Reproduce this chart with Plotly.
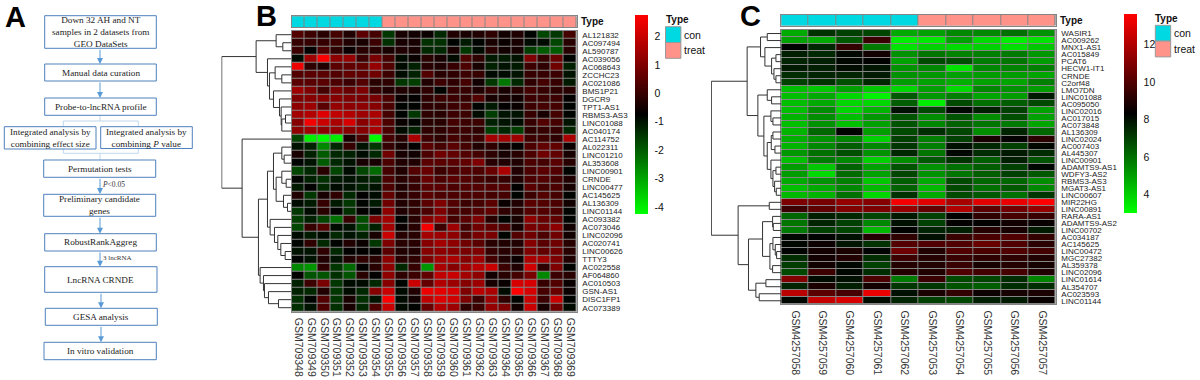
import plotly.graph_objects as go

# ---------- DATA ----------
b_rows = ["AL121832","AC097494","AL590787","AC039056","AC068643","ZCCHC23","AC021086","BMS1P21","DGCR9","TPT1-AS1","RBMS3-AS3","LINC01088","AC040174","AC114752","AL022311","LINC01210","AL353608","LINC00901","CRNDE","LINC00477","AC145625","AL136309","LINC01144","AC093382","AC073046","LINC02096","AC020741","LINC00626","TTTY3","AC022558","AF064860","AC010503","GSN-AS1","DISC1FP1","AC073389"]
b_cols = ["GSM7093%d" % i for i in range(48, 70)]
b_types = [0]*7 + [1]*15
b_values = [
[.4,.1,-.2,.2,-.3,.5,.2,-1.5,-.4,-.5,-.6,-1.3,-.3,-.4,-.3,-.1,-.5,-.3,-.8,-1.7,-1.5,.2],
[0,0,0,.1,-.3,-.4,.1,-1.4,-.4,-.4,-1.4,-1.4,-.8,-1.1,-.8,-.4,-.6,-.4,-.9,-.9,-1.7,-.2],
[.1,-.7,.3,-.1,-.6,-.2,-.2,-.4,-.3,-.4,-1.3,-1.3,-.4,-1.5,-.9,-.2,-.5,-.4,-1.6,-2,-2,-.2],
[-.9,1.4,2.7,1.2,1.3,.1,.9,.2,-.9,-.6,-.2,-.4,-.9,.3,-.1,-1.1,-1.1,-1,1,0,.7,-.8],
[2.5,-.1,-.3,.5,.6,.6,1.3,.4,-.9,-1.2,-.2,-.3,0,.3,-.4,-1.2,-1,-1.1,.1,-.1,.8,-1.2],
[.4,.5,.5,.4,.6,.6,.8,.1,-.9,-1.2,.4,-.2,-.1,.1,0,-.9,-.9,-1,0,0,.1,-1],
[.5,.5,.5,.3,.1,.4,-.2,-.1,-1.5,-1.6,-.3,.1,-.1,.2,-.5,-1.5,-2.4,-1.3,-.1,.2,0,-1.1],
[1.4,1,.2,.9,.7,1,0,-.3,-.3,-.4,-.1,-.8,0,0,-.3,0,-.4,-.2,.2,0,-.1,-.2],
[1,1.1,1.1,1.1,1,.9,.9,.3,-.6,-.7,-.1,.1,.1,0,.4,-.4,-.4,-.5,.1,.1,.1,-.7],
[1.2,1.4,.5,1.3,1.2,1.2,1.1,.3,-.8,-.8,-.1,-.1,.1,.2,-.8,-1.1,-.7,-.6,.1,.2,.2,-.8],
[1.5,1.7,2.3,1.9,1.7,1.4,1.6,.2,-.8,-1.5,-.1,-.2,.1,.1,-.9,-1.6,-1,-1,0,-.4,.2,-.8],
[1.1,2.6,2,1.6,2.2,1.1,1.6,.3,-.6,-.8,-.2,-.2,.2,.1,.1,-1.2,-1,-.9,0,.4,.2,-1],
[1.2,1.4,1.2,1.3,1.1,1.1,1.6,.3,-.9,-1.2,-.1,-.1,.1,.1,-.1,-1.6,-1.3,-1.6,-.1,0,0,-1.3],
[-1.7,-4,-4.2,-4,-.4,.3,-4.2,.2,-.2,1.6,.1,-.1,.2,.1,.1,1.5,1.5,1.4,.1,.1,-.1,1.6],
[-1,-1.2,-2.6,-1.3,0,-1,-1.5,0,-.4,-.7,.5,.2,.5,.2,-.3,-.1,-.5,-.7,.3,.6,.6,-.6],
[-.4,-1.2,-2,-1.3,-1.2,-.9,-1.3,.8,-.4,-.5,.3,.8,.6,.4,.2,-.1,-.4,-.2,.3,.8,.6,-.4],
[-.8,-1,-2,-1.3,-1,-.4,-.4,.3,-.3,-.3,.5,.5,.5,.6,1,-.2,-.3,-.3,.3,.2,.5,-.2],
[-1.7,-1.3,-.2,-1.7,-.9,-1.7,-2.2,.2,-.3,.4,.7,.1,.3,.4,.3,.7,1.6,-.3,.3,.5,.4,-.8],
[-.8,-1.2,-1.4,-1.1,-1,-1.1,-1.3,.3,-.2,.1,.7,.3,.5,.4,.2,.1,0,-.3,.3,.4,.2,-.3],
[-1.1,-.7,-1.3,-.9,-1,-1.2,-1,.3,-.3,0,.5,.5,.3,.4,.4,.4,.4,-.7,.5,.2,.3,-.4],
[-.3,-1.5,-.4,-.1,-1.3,-.7,-.9,.6,-.2,0,.5,.3,.3,.3,.3,.2,.2,-.8,.1,.4,.2,-.8],
[-.9,-1.1,0,-1.1,-1.5,-.8,-1.1,.8,-.3,-.1,.5,1,.4,.1,.2,.5,-.6,-.3,.5,.4,.3,-.5],
[-1.5,-.9,-.2,-.7,-1.4,-.7,-.8,1.2,-.3,-.1,.3,1,.3,.2,.4,.6,-.1,-.2,.4,.4,.3,-.8],
[-1.6,-1.2,-1.7,-2.3,0,-1.8,.9,1.5,-.8,-.2,1.1,1.3,.2,.5,1,-.2,-.8,-.4,1.2,.7,.6,-.8],
[-1.7,0,.4,-.9,-1,-1.8,-1.2,1.5,-.6,-.2,2.6,.1,1.4,.2,.8,.6,.3,-.4,.9,.8,1.2,-.5],
[-.9,-1.1,-.9,-1.3,-1,-1.2,-.4,2,-.2,-.2,1.5,1.4,1.2,.4,.9,.9,-.8,.4,.8,.3,.8,-.5],
[-.8,-.1,-1.3,-.8,-.3,-.6,-1.5,1,-.2,-.2,1.1,1.5,1.2,.8,.5,-.2,-.3,-.3,1.1,.5,.8,-.2],
[-1,-1,-.1,-1.3,-.7,-.7,-.7,.5,-.3,-.3,1.1,1.2,1.1,.9,1,0,-.2,-.1,1,.6,.8,-.2],
[-.8,-1,-.3,-1,-.3,-.1,-.2,1.2,-.2,-.1,1,1.5,1.6,1.1,1.4,.2,-.3,-.6,1.6,1.5,1,-.3],
[-2.6,-2.8,-.1,-1.5,-2.2,-.7,-.2,1.2,-1.3,0,-2.8,1.6,1.1,1.5,1.8,2,.1,-.3,2.1,-.1,1,-.8],
[-.7,-1.9,-1.9,-1.4,-1.9,-.2,-.7,1.2,-.1,.1,.6,1.9,2,1.5,1.2,-.5,-.2,.2,.9,-2.6,.1,-.2],
[-1.2,.1,.9,-1.5,-.9,-.9,-1.3,1.1,-.8,2,.6,1.7,1.4,1.1,1.4,-.4,-.6,2.2,2.2,0,.4,-.6],
[-1.2,-1.3,-.3,-1.5,-.9,-1.3,1.1,2,-.9,-.3,2.5,2.4,2.2,1,1.8,1.6,-.9,2.7,2.2,.2,.7,-.6],
[-1.4,-.8,.4,-1.5,-.4,-1.4,-1,2.7,-.9,-.5,1.9,2.3,2.1,1,.1,1.4,-.1,-.8,2,.1,2,-.8],
[-1.4,-1,.3,-1.4,-.4,-1.3,.3,2,-.9,-.8,.7,1.7,1.4,-.1,.1,1.3,1,-.5,2,-.4,.8,-.9],
]
b_tree = (209,
    (106, (46, 0, (26, 1, 2)),
          (72, 3, (66, (49, 4, (29, 5, 6)),
                       (54, 7, (36, 8, (31, 9, (29, (18, 10, 11), 12))))))),
    (148, 13, (99,
        (72, (54, (29, 14, (22, 15, 16)), (46, (29, 17, (16, 18, 19)), (24, 20, (12, 21, 22)))),
              (64, 23, (51, 24, (41, 25, (32, 26, (19, 27, 28)))))),
        (94, 29, (84, 30, (81, 31, (69, 32, (39, 33, 34))))))))
b_range = (-4.25, 2.76)
b_ticks = [2, 1, 0, -1, -2, -3, -4]

c_rows = ["WASIR1","AC009262","MNX1-AS1","AC015849","PCAT6","HECW1-IT1","CRNDE","C2orf48","LMO7DN","LINC01088","AC095050","LINC02016","AC017015","AC073848","AL136309","LINC02024","AC007403","AL445307","LINC00901","ADAMTS9-AS1","WDFY3-AS2","RBMS3-AS3","MGAT3-AS1","LINC00607","MIR22HG","LINC00891","RARA-AS1","ADAMTS9-AS2","LINC00702","AC034187","AC145625","LINC00472","MGC27382","AL359378","LINC02096","LINC01614","AL354707","AC023593","LINC01144"]
c_cols = ["GSM42570%d" % i for i in (58,59,60,61,62,53,54,55,56,57)]
c_types = [0]*5 + [1]*5
c_values = [
[4.8,7.3,7,6.9,4.8,5,5.5,5.5,6,5.3],
[5,4.8,6.5,9.5,3.4,3.5,5,3.8,3.4,3.6],
[8.3,7.5,9.4,5.8,3.6,4,3.8,4,3.7,4.2],
[7.7,7.5,8.2,8.7,5.3,5.9,5.6,5.7,5.8,5.2],
[7.6,7.7,8.2,8.3,5,6.8,6.7,5.8,5.9,5.1],
[7.8,7.7,8.1,7.9,5.3,5.5,3.6,5.5,5.6,5.7],
[7.4,7.6,7.6,7.8,5.3,5.2,5,5.1,5.1,4.9],
[7,7.3,6.7,7.5,5.1,5,4.7,5,4.9,5.7],
[4.4,4.2,5,4.2,3.9,5,3.8,5.5,5.3,5.1],
[4.4,4.8,3.9,3.3,6.5,5.2,5.7,4.9,5.1,7.8],
[4.4,4.8,3.9,3.9,6.4,3.4,6.8,6,6.4,6.8],
[4.4,5.4,3.9,4.6,8,6.8,8.2,7.7,7,5],
[4.6,5.4,4.4,5.2,6.6,5.4,6.6,5.4,6.7,5],
[4.4,5.3,4.4,5,6.6,5.5,6.3,5.9,5.8,4.9],
[4.6,6.2,8.3,5.1,6.8,7.4,6.9,5.4,7.6,6.2],
[4.7,5.3,5.6,4,7,5.7,7,8.8,8.4,9.2],
[4.6,5.5,6.4,5.5,7.2,5.7,8,7.5,7,8.2],
[5.2,6,6.7,5.3,7.5,5.9,8.2,7.4,7.8,7.4],
[4.4,5.8,5.5,4,5.4,6.5,7.3,6.4,7.7,6.6],
[5.1,4.2,6.3,5,6.6,5.3,6,6.4,7,8.2],
[5.1,3.8,6.1,5,6.9,5.3,5.9,6.4,7,6.5],
[4.8,5.3,5.7,4.2,6.4,4.8,6.8,6.2,6.2,5.4],
[4.4,4.8,5.5,4.5,6.3,4.5,6.8,6,6.5,5.5],
[4.5,4.6,6,3.9,7.3,4.8,6.8,6.5,6,7.2],
[10.9,10.8,11.4,11.1,13.4,13,11.8,13,13.2,13.6],
[9.6,10.3,11,10.9,11.4,10.4,12,10.2,10.7,11.4],
[6.2,7.7,7.5,6.9,7.8,7,8.4,9.3,9.8,9.5],
[5.9,7.6,7,5.5,8,7,8.4,8.4,8.7,8.5],
[5.8,7,6.9,4.5,8.3,7.6,7.7,9.1,8.8,7.8],
[8.2,8.3,8,9.1,9.3,8,9.5,9.9,10,9.4],
[8.2,8.6,7.9,7.3,10.1,10,10,10.5,10,9.2],
[8.3,8.7,8.9,8.3,10.6,9,10,9.9,10,9.7],
[7.4,8.7,9,7.4,9.6,9.1,9.5,9.3,9.3,9],
[7.1,8.7,8.2,7,9.1,9,9.5,8.8,9.1,8.8],
[6.8,9.6,8.2,7.4,9.1,9,10,9.7,9.8,9],
[11,8.1,8,9.9,5.8,9.5,6.8,6.9,7.4,5.6],
[7.6,8.9,7.7,8.7,7.2,7.2,6.6,6.4,7.4,7.4],
[12.2,10.2,9.8,13.2,8,8.9,9.4,8.6,8.8,8.9],
[8.2,12.4,12.8,8.1,7.6,7,6.9,7.7,7.8,8.5],
]
c_tree = (209,
    (102, (62, (42, 0, 1), (49, 2, (29, (16, 3, 4), (22, 5, (16, 6, 7))))),
          (70, (42, 8, (29, 9, 10)),
               (52, (31, 11, (25, 12, 13)),
                    (42, (30, (25, 14, 15), (19, 16, 17)),
                         (31, 18, (25, (16, 19, 20), (20, 21, (15, 22, 23)))))))),
    (129, (36, 24, 25),
          (98, (56, (26, 26, (24, 27, 28)),
                    (34, (25, 29, (18, 30, (14, 31, 32))), (26, 33, 34))),
               (76, (46, 35, 36), (66, 37, 38)))))
c_range = (3.04, 13.63)
c_ticks = [12, 10, 8, 6, 4]

type_names = ["con", "treat"]
flow_labels = ["Down 32 AH and NT<br>samples in 2 datasets from<br>GEO DataSets", "Manual data curation",
               "Probe-to-lncRNA profile", "Integrated analysis by<br>combining effect size",
               "Integrated analysis by<br>combining <i>P</i> value", "Permutation tests",
               "Preliminary candidate<br>genes", "RobustRankAggreg", "LncRNA CRNDE", "GESA analysis",
               "In vitro validation"]

# ---------- STYLE / LAYOUT ----------
W, H = 1200, 380
CON, TREAT, GRID = "#00D8E2", "#FF9289", "#858585"
SCALE = [[0, "#00FF00"], [.5, "#000000"], [1, "#FF0000"]]
SANS, SERIF = "Liberation Sans, Arial", "Liberation Serif, Times New Roman"

fx = lambda x: x / W
fy = lambda y: 1 - y / H

flow_boxes = [(44.7,15.7,156.3,48.3),(44.7,64,156.3,81),(44.7,98,156.3,115.3),(4.3,126.7,96,149),
              (100.7,126.7,192.3,148.5),(43.7,160,155.7,177.3),(43.7,194.3,155.7,216.3),(44.7,233.7,156.3,251),
              (44.7,266.7,157,292.3),(45.3,308.3,157.3,325.3),(44,342.3,156.3,359.7)]
flow_arrows = [(100,48.3,64),(100,81,98),(100,177.3,194),(100,216.3,233.7),(100,251,266.7),(101,292.3,308.3),(101,325.3,342.3)]

shapes, annots, traces = [], [], []
layout = {}

def text(x, y, s, size, xanchor="left", bold=False, font=SANS, color="#111"):
    annots.append(dict(xref="paper", yref="paper", x=fx(x), y=fy(y), text=("<b>%s</b>" % s) if bold else s,
                       showarrow=False, xanchor=xanchor, yanchor="middle", align="center",
                       font=dict(family=font, size=size, color=color), borderpad=0, borderwidth=0))

def dendro_lines(node):
    xs, ys = [], []
    def walk(n):
        if isinstance(n, int):
            return 0, n
        h, a, b = n
        ha, ya = walk(a)
        hb, yb = walk(b)
        xs.extend([ha, h, h, hb, None])
        ys.extend([ya, ya, yb, yb, None])
        return h, (ya + yb) / 2
    walk(node)
    return xs, ys

def panel(idx, rows, cols, types, values, tree, zr, ticks, hm, bar, dx, cb):
    n, m = len(rows), len(cols)
    a = [idx*3 + 1, idx*3 + 2, idx*3 + 3]
    name = lambda s, k: s + (str(k) if k > 1 else "")
    # grey cell borders come from a backing rectangle under the gapped heatmaps
    for y0, y1 in ((hm[1], hm[3]), bar):
        shapes.append(dict(type="rect", xref="paper", yref="paper", layer="below", x0=fx(hm[0]), x1=fx(hm[2]),
                           y0=fy(y0), y1=fy(y1), fillcolor=GRID, line=dict(width=0)))
    traces.append(go.Heatmap(z=values, x=cols, y=rows, zmin=zr[0], zmax=zr[1], colorscale=SCALE, xgap=1, ygap=1,
                             xaxis=name("x", a[0]), yaxis=name("y", a[0]), hoverinfo="skip",
                             colorbar=dict(x=fx(cb[0]), xanchor="left", y=fy(cb[1]), yanchor="top", lenmode="pixels",
                                           len=cb[2], thicknessmode="pixels", thickness=13, xpad=0, ypad=0,
                                           outlinewidth=0, tickvals=ticks, ticktext=[str(t) for t in ticks],
                                           ticks="outside", ticklen=5, tickcolor="white",
                                           tickfont=dict(family=SANS, size=10.5, color="#111"))))
    layout[name("xaxis", a[0])] = dict(domain=[fx(hm[0]), fx(hm[2])], range=[-.5, m-.5], anchor=name("y", a[0]),
        type="category", side="bottom", tickangle=90, ticks="outside", ticklen=3, tickcolor="white", dtick=1,
        tickfont=dict(family=SANS, size=10.5, color="#333"), showgrid=False, showline=True, mirror=True,
        linecolor=GRID, linewidth=1, zeroline=False)
    layout[name("yaxis", a[0])] = dict(domain=[fy(hm[3]), fy(hm[1])], range=[n-.5, -.5], anchor=name("x", a[0]),
        type="category", side="right", ticks="outside", ticklen=3, tickcolor="white", dtick=1,
        tickfont=dict(family=SANS, size=8, color="#222"), showgrid=False, showline=True, mirror=True,
        linecolor=GRID, linewidth=1, zeroline=False)
    traces.append(go.Heatmap(z=[types], x=cols, y=["Type"], zmin=0, zmax=1, showscale=False, xgap=1,
                             colorscale=[[0, CON], [.5, CON], [.5, TREAT], [1, TREAT]],
                             xaxis=name("x", a[1]), yaxis=name("y", a[1]), hoverinfo="skip"))
    layout[name("xaxis", a[1])] = dict(domain=[fx(hm[0]), fx(hm[2])], range=[-.5, m-.5], anchor=name("y", a[1]),
        type="category", showticklabels=False, ticks="", showgrid=False, showline=True, mirror=True,
        linecolor=GRID, linewidth=1)
    layout[name("yaxis", a[1])] = dict(domain=[fy(bar[1]), fy(bar[0])], anchor=name("x", a[1]), type="category",
        showticklabels=False, ticks="", showgrid=False, showline=True, mirror=True, linecolor=GRID, linewidth=1)
    xs, ys = dendro_lines(tree)
    traces.append(go.Scatter(x=xs, y=ys, mode="lines", line=dict(color="#333", width=1), showlegend=False,
                             hoverinfo="skip", xaxis=name("x", a[2]), yaxis=name("y", a[2])))
    layout[name("xaxis", a[2])] = dict(domain=[fx(dx), fx(hm[0])], range=[tree[0] + 1, 0], anchor=name("y", a[2]),
                                       visible=False, fixedrange=True)
    layout[name("yaxis", a[2])] = dict(domain=[fy(hm[3]), fy(hm[1])], range=[n-.5, -.5], anchor=name("x", a[2]),
                                       visible=False, fixedrange=True)

panel(0, b_rows, b_cols, b_types, b_values, b_tree, b_range, b_ticks,
      (291.5, 30.7, 576.7, 311.7), (16.3, 27), 221.4, (635, 15, 199))
panel(1, c_rows, c_cols, c_types, c_values, c_tree, c_range, c_ticks,
      (781.3, 30, 1055.7, 304.3), (15, 25.5), 711, (1123.7, 13.7, 199))

# Type captions and legends
text(581, 22, "Type", 10, bold=True)
text(1059.5, 21, "Type", 10, bold=True)
for lx, ly, tx, ty in ((665.5, 26.7, 665.7, 20), (1155.3, 25.3, 1155.3, 18.5)):
    text(tx, ty, "Type", 10, bold=True)
    for i, (nm, col) in enumerate(zip(type_names, (CON, TREAT))):
        shapes.append(dict(type="rect", xref="paper", yref="paper", x0=fx(lx), x1=fx(lx+15.4),
                           y0=fy(ly+i*15.8), y1=fy(ly+(i+1)*15.8), fillcolor=col,
                           line=dict(color="#999", width=1)))
        text(lx+18.8, ly+7.9+i*15.8, nm, 10.5)

# Panel letters
text(4.5, 17.5, "A", 29, bold=True, color="#000")
text(255.5, 16, "B", 29, bold=True, color="#000")
text(739.5, 16.5, "C", 29, bold=True, color="#000")

# Flow chart
PALE, EDGE, ARROW = "#BDD7EE", "#4E81BD", "#5B9BD5"
shapes.append(dict(type="rect", xref="paper", yref="paper", x0=fx(63.3), x1=fx(138.3), y0=fy(121), y1=fy(153.3),
                   line=dict(color=PALE, width=1), fillcolor="rgba(0,0,0,0)"))
for y0, y1 in ((115.3, 121), (153.3, 160)):
    shapes.append(dict(type="line", xref="paper", yref="paper", x0=fx(100), x1=fx(100), y0=fy(y0), y1=fy(y1),
                       line=dict(color=PALE, width=1)))
for (x0, y0, x1, y1), lab in zip(flow_boxes, flow_labels):
    shapes.append(dict(type="rect", xref="paper", yref="paper", x0=fx(x0), x1=fx(x1), y0=fy(y0), y1=fy(y1),
                       fillcolor="white", line=dict(color=EDGE, width=1)))
    text((x0+x1)/2, (y0+y1)/2, lab, 9.2, xanchor="center", font=SERIF, color="#222")
for x, y0, y1 in flow_arrows:
    annots.append(dict(xref="paper", yref="paper", x=fx(x), y=fy(y1), ax=0, ay=-(y1 - y0),
                       text="", showarrow=True, arrowhead=2, arrowsize=1.2, arrowwidth=1, arrowcolor=ARROW))
text(102, 184.5, "<i>P</i><0.05", 7.5, font=SERIF, color="#333")
text(103, 258, "3 lncRNA", 7, font=SERIF, color="#333")

fig = go.Figure(traces)
fig.update_layout(width=W, height=H, margin=dict(l=0, r=0, t=0, b=0, autoexpand=False), paper_bgcolor="white",
                  plot_bgcolor="white", showlegend=False, shapes=shapes, annotations=annots, **layout)
fig.write_html("out.html", post_script="document.body.style.margin='0';", config={"displayModeBar": False})
